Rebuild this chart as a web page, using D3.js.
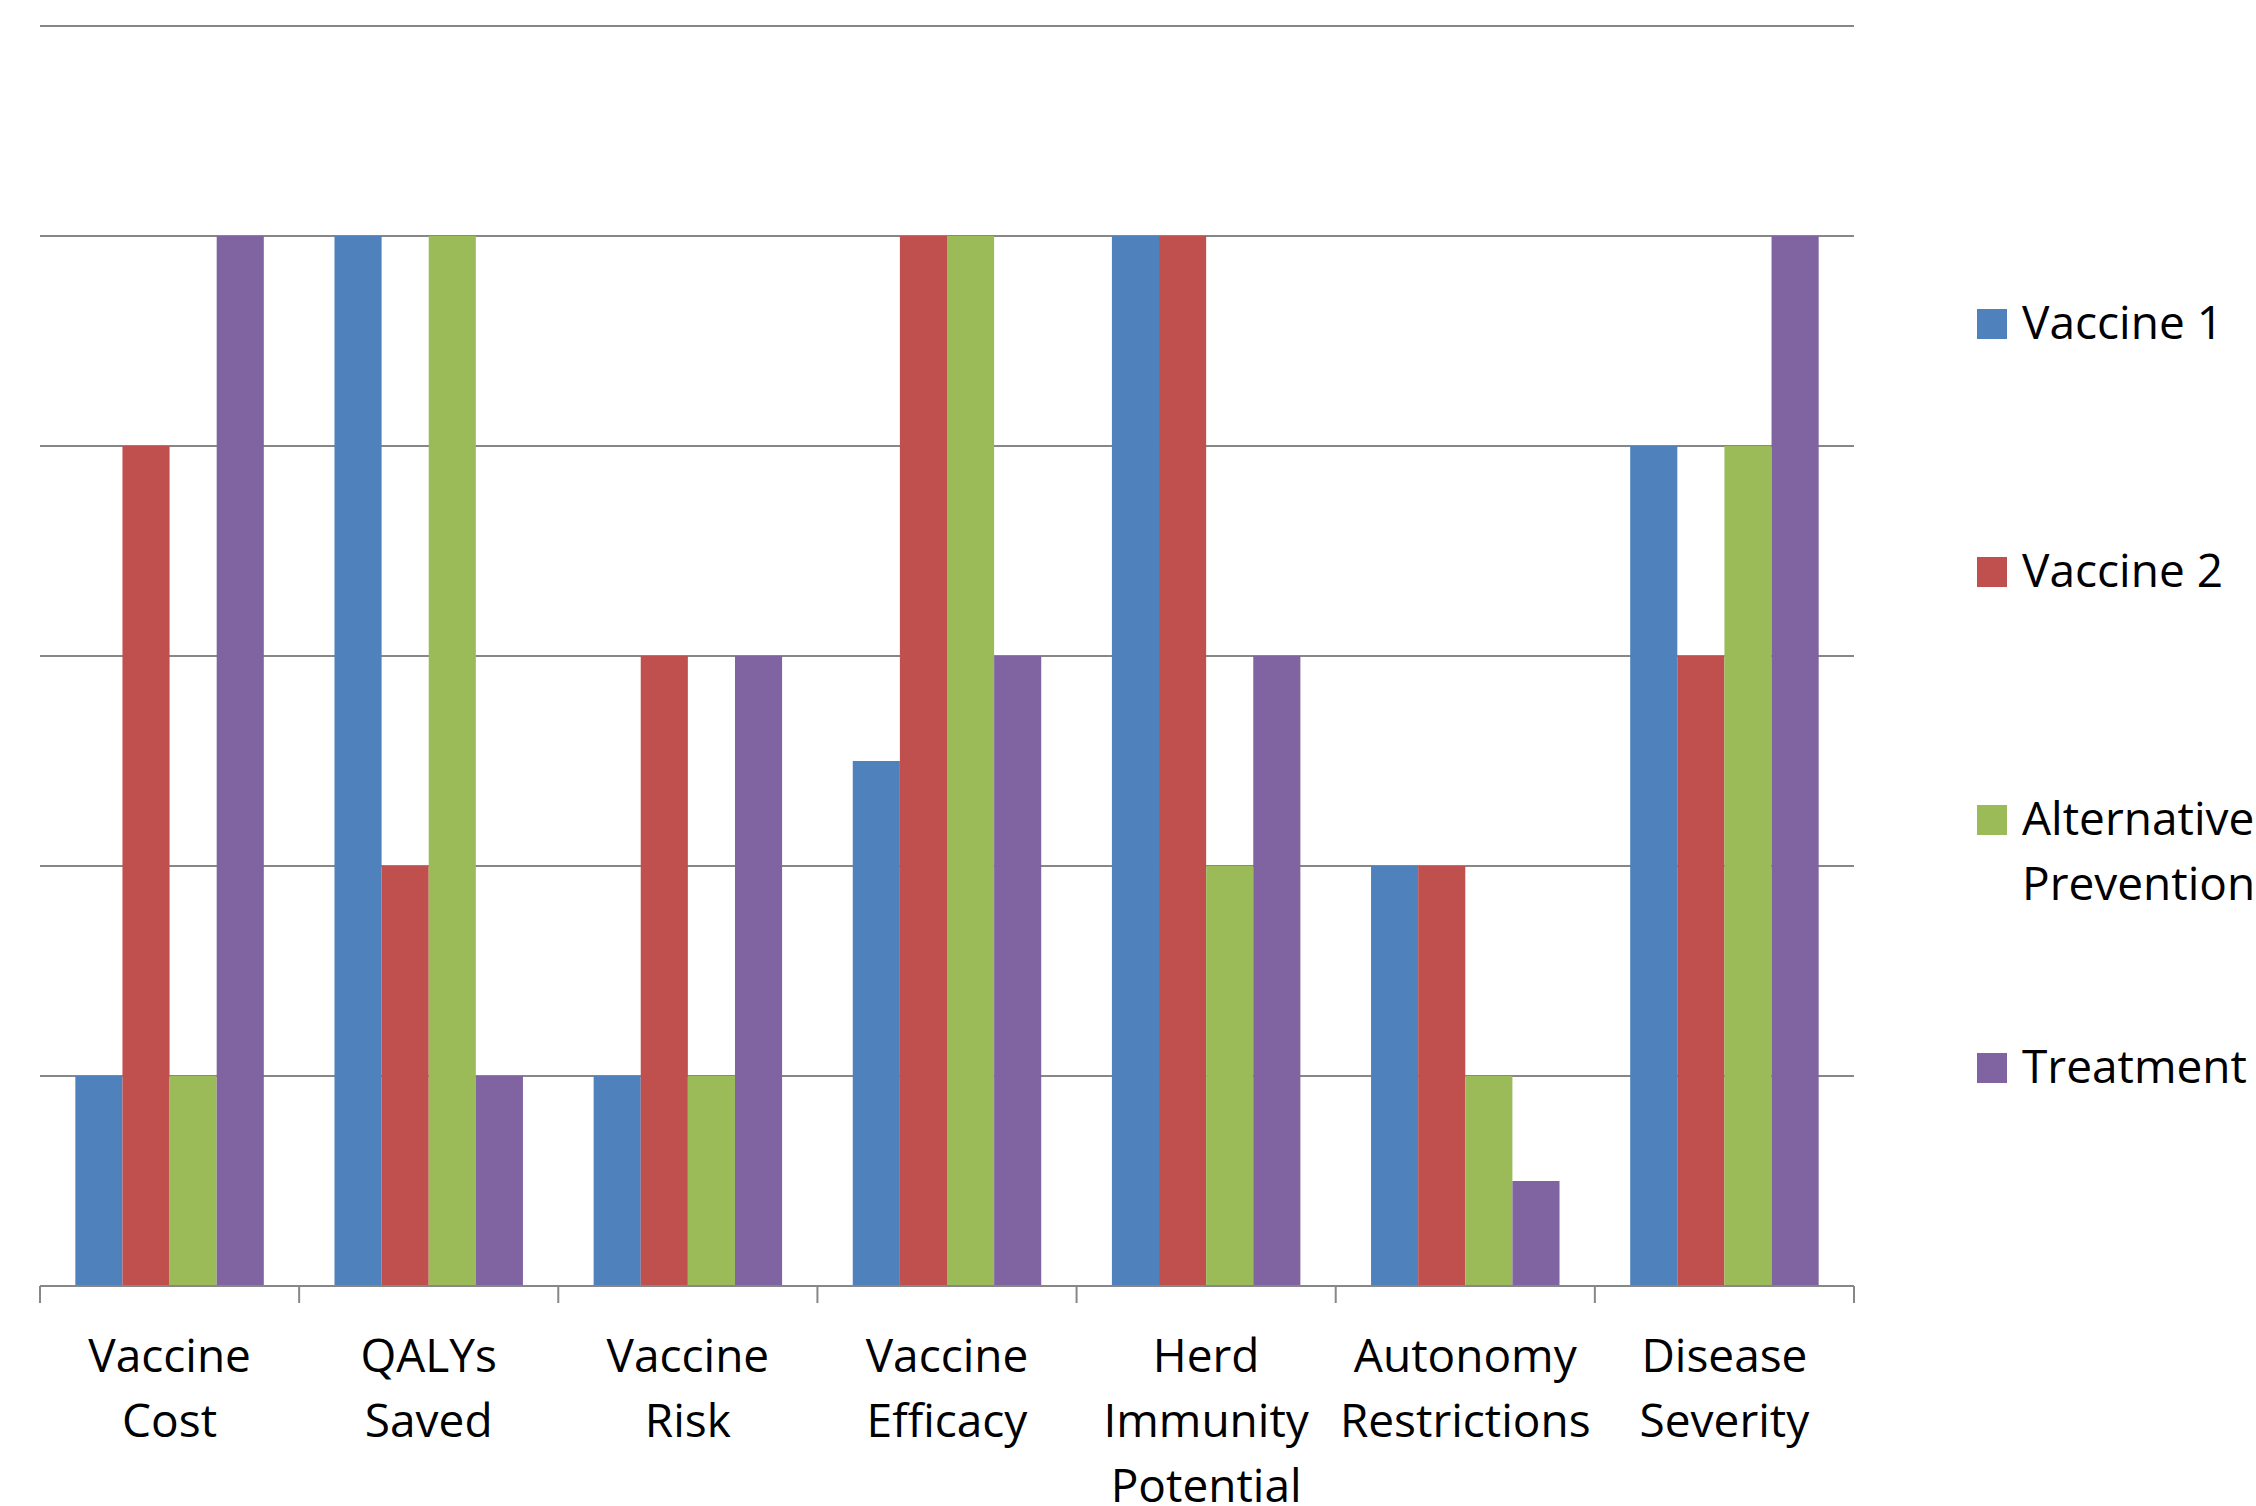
<!DOCTYPE html>
<html>
<head>
<meta charset="utf-8">
<script src="https://cdn.jsdelivr.net/npm/d3@7"></script>
<style>
  html, body { margin: 0; padding: 0; background: #ffffff; }
  svg { display: block; }
  text { font-family: "Open Sans", "Liberation Sans", sans-serif; fill: #000; }
</style>
</head>
<body>
<svg id="chart" width="2256" height="1506"></svg>
<script>
// Criteria compared across the four options
const categories = [
  "Vaccine Cost",
  "QALYs Saved",
  "Vaccine Risk",
  "Vaccine Efficacy",
  "Herd Immunity Potential",
  "Autonomy Restrictions",
  "Disease Severity"
];

const seriesNames = ["Vaccine 1", "Vaccine 2", "Alternative Prevention", "Treatment"];

// Scores per criterion, one array per option
const vaccine1    = [1, 5, 1, 2.5, 5, 2, 4];
const vaccine2    = [4, 2, 3, 5,   5, 2, 3];
const altPrevent  = [1, 5, 1, 5,   2, 1, 4];
const treatment   = [5, 1, 3, 3,   3, 0.5, 5];

// Gridline levels
const gridTicks = [1, 2, 3, 4, 5, 6];

// Legend label lines
const legendLines = [["Vaccine 1"], ["Vaccine 2"], ["Alternative", "Prevention"], ["Treatment"]];

const seriesValues = [vaccine1, vaccine2, altPrevent, treatment];
const colors = ["#4F81BD", "#C0504D", "#9BBB59", "#8064A2"];

const svg = d3.select("#chart");

const plot = { left: 40, right: 1854, top: 26, bottom: 1286 };

const x0 = d3.scaleBand()
  .domain(categories)
  .range([plot.left, plot.right])
  .paddingInner(0)
  .paddingOuter(0);

const x1 = d3.scaleBand()
  .domain(seriesNames)
  .range([0, x0.bandwidth()])
  .paddingInner(0)
  .paddingOuter(0.75);

const y = d3.scaleLinear()
  .domain([0, 6])
  .range([plot.bottom, plot.top]);

const color = d3.scaleOrdinal().domain(seriesNames).range(colors);

// Horizontal gridlines
svg.append("g")
  .selectAll("line")
  .data(gridTicks)
  .join("line")
  .attr("x1", plot.left)
  .attr("x2", plot.right)
  .attr("y1", d => y(d))
  .attr("y2", d => y(d))
  .attr("stroke", "#878787")
  .attr("stroke-width", 2);

// Grouped bars
const rows = categories.map((c, i) => ({
  category: c,
  values: seriesNames.map((s, j) => ({ series: s, value: seriesValues[j][i] }))
}));

const groups = svg.append("g")
  .selectAll("g")
  .data(rows)
  .join("g")
  .attr("transform", d => `translate(${x0(d.category)},0)`);

groups.selectAll("rect")
  .data(d => d.values)
  .join("rect")
  .attr("x", d => x1(d.series))
  .attr("width", x1.bandwidth())
  .attr("y", d => y(d.value))
  .attr("height", d => y(0) - y(d.value))
  .attr("fill", d => color(d.series));

// Category axis: baseline and boundary ticks
const axis = svg.append("g");
axis.append("line")
  .attr("x1", plot.left)
  .attr("x2", plot.right)
  .attr("y1", y(0))
  .attr("y2", y(0))
  .attr("stroke", "#878787")
  .attr("stroke-width", 2);

const boundaries = categories.map(c => x0(c)).concat([x0.range()[1]]);
axis.selectAll("line.tick")
  .data(boundaries)
  .join("line")
  .attr("class", "tick")
  .attr("x1", d => d)
  .attr("x2", d => d)
  .attr("y1", y(0))
  .attr("y2", y(0) + 17)
  .attr("stroke", "#878787")
  .attr("stroke-width", 2);

// Wrapped category labels
const labels = axis.selectAll("text.cat")
  .data(categories)
  .join("text")
  .attr("class", "cat")
  .attr("text-anchor", "middle")
  .attr("font-size", 46)
  .attr("transform", d => `translate(${x0(d) + x0.bandwidth() / 2},${y(0) + 86})`);

labels.selectAll("tspan")
  .data(d => d.split(" "))
  .join("tspan")
  .attr("x", 0)
  .attr("y", (d, i) => i * 65)
  .text(d => d);

// Legend
const legend = svg.append("g").attr("transform", "translate(1977,0)");
const items = legend.selectAll("g")
  .data(seriesNames)
  .join("g")
  .attr("transform", (d, i) => `translate(0,${339 + i * 248})`);

items.append("rect")
  .attr("x", 0)
  .attr("y", -30)
  .attr("width", 30)
  .attr("height", 30)
  .attr("fill", d => color(d));

items.append("text")
  .attr("font-size", 46)
  .selectAll("tspan")
  .data((d, i) => legendLines[i])
  .join("tspan")
  .attr("x", 45)
  .attr("y", (d, i) => i * 65)
  .text(d => d);
</script>
</body>
</html>
